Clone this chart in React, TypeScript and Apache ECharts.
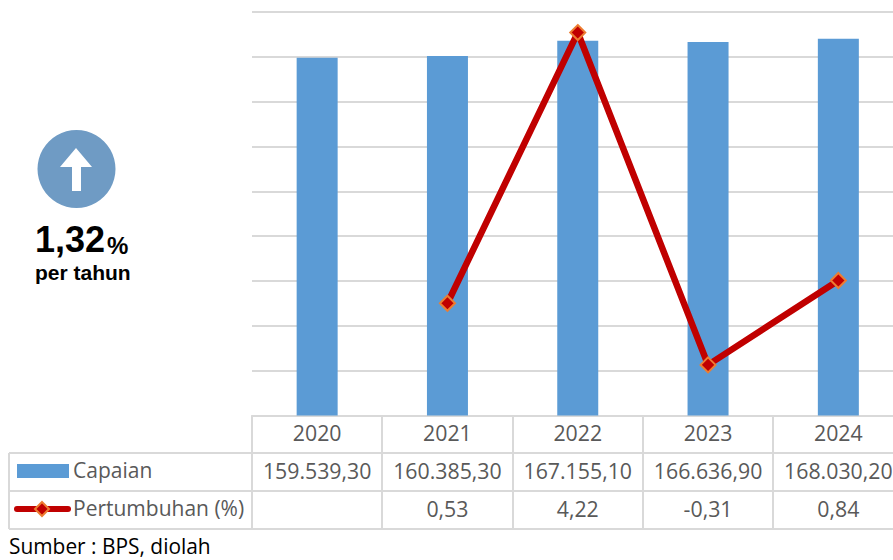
import React, { useEffect, useRef } from "react";
import * as echarts from "echarts";

const years = ["2020", "2021", "2022", "2023", "2024"];
const capaian = [159539.3, 160385.3, 167155.1, 166636.9, 168030.2];
const pertumbuhan: (number | null)[] = [null, 0.53, 4.22, -0.31, 0.84];
const capaianLabels = ["159.539,30", "160.385,30", "167.155,10", "166.636,90", "168.030,20"];
const pertumbuhanLabels = ["", "0,53", "4,22", "-0,31", "0,84"];
const tableRowY = [453, 491, 529];
const tableColX = [252, 382, 513, 643, 773];

const BLUE = "#5B9BD5";
const RED = "#C00000";
const ORANGE = "#ED7D31";
const LINE = "#D9D9D9";
const TEXT = "#595959";
const FONT = '"Open Sans", sans-serif';

const hline = (x1: number, x2: number, y: number) => ({
  type: "line", silent: true,
  shape: { x1, y1: y, x2, y2: y },
  style: { stroke: LINE, lineWidth: 2 },
});
const vline = (x: number, y1: number, y2: number) => ({
  type: "line", silent: true,
  shape: { x1: x, y1, x2: x, y2 },
  style: { stroke: LINE, lineWidth: 2 },
});

export default function App() {
  const ref = useRef<HTMLDivElement>(null);
  useEffect(() => {
    const chart = echarts.init(ref.current!, undefined, { renderer: "svg" });
    const xBase = { type: "category", position: "bottom", axisTick: { show: false }, splitLine: { show: false } };
    const label = (margin: number) => ({
      show: true, interval: 0, margin, color: TEXT, fontFamily: FONT, fontSize: 21.3,
      hideOverlap: false,
    });
    chart.setOption({
      animation: false,
      backgroundColor: "#fff",
      grid: { left: 252, top: 12, width: 651.5, height: 403.5, containLabel: false, outerBoundsMode: "none" },
      xAxis: [
        { ...xBase, data: years, axisLine: { show: true, lineStyle: { color: LINE, width: 2 } }, axisLabel: label(6) },
        { ...xBase, data: capaianLabels, axisLine: { show: false }, axisLabel: label(44) },
        { ...xBase, data: pertumbuhanLabels, axisLine: { show: false }, axisLabel: label(82) },
      ],
      yAxis: [
        {
          type: "value", min: 0, max: 180000, interval: 20000,
          axisLabel: { show: false }, axisLine: { show: false }, axisTick: { show: false },
          splitLine: { show: true, lineStyle: { color: LINE, width: 2 } },
        },
        {
          type: "value", min: -1, max: 4.5, position: "right",
          axisLabel: { show: false }, axisLine: { show: false }, axisTick: { show: false },
          splitLine: { show: false },
        },
      ],
      series: [
        {
          name: "Capaian", type: "bar", data: capaian, barWidth: 41,
          itemStyle: { color: BLUE }, xAxisIndex: 0, yAxisIndex: 0,
        },
        {
          name: "Pertumbuhan (%)", type: "line", data: pertumbuhan, xAxisIndex: 0, yAxisIndex: 1,
          connectNulls: false, symbol: "diamond", symbolSize: 15, showAllSymbol: true,
          lineStyle: { color: RED, width: 6.5 },
          itemStyle: { color: RED, borderColor: ORANGE, borderWidth: 2 },
          z: 5,
        },
      ],
      graphic: [
        hline(9, 893, tableRowY[0]),
        hline(9, 893, tableRowY[1]),
        hline(9, 893, tableRowY[2]),
        vline(9, tableRowY[0], tableRowY[2]),
        ...tableColX.map((x) => vline(x, 415.5, tableRowY[2])),
        { type: "rect", silent: true, shape: { x: 17, y: 464, width: 52, height: 14 }, style: { fill: BLUE } },
        { type: "text", silent: true, x: 73, y: 470, style: { text: "Capaian", fill: TEXT, font: `21px ${FONT}`, verticalAlign: "middle" } },
        { type: "line", silent: true, shape: { x1: 17, y1: 509, x2: 68, y2: 509 }, style: { stroke: RED, lineWidth: 6, lineCap: "round" } },
        { type: "polygon", silent: true, shape: { points: [[42, 502], [49, 509], [42, 516], [35, 509]] }, style: { fill: RED, stroke: ORANGE, lineWidth: 2 } },
        { type: "text", silent: true, x: 73, y: 508, style: { text: "Pertumbuhan (%)", fill: TEXT, font: `21px ${FONT}`, verticalAlign: "middle" } },
        { type: "text", silent: true, x: 9, y: 546, style: { text: "Sumber : BPS, diolah", fill: "#000", font: `20.9px ${FONT}`, lineHeight: 21, verticalAlign: "middle" } },
        { type: "circle", silent: true, shape: { cx: 76.5, cy: 169, r: 39 }, style: { fill: "#6F9BC4" } },
        {
          type: "polygon", silent: true,
          shape: { points: [[76, 148], [92, 167], [81, 167], [81, 191], [72, 191], [72, 167], [60, 167]] },
          style: { fill: "#fff" },
        },
        { type: "text", silent: true, x: 35, y: 239, style: { text: "1,32", fill: "#000", font: `bold 36px "Liberation Sans", Arial, sans-serif`, verticalAlign: "middle" } },
        { type: "text", silent: true, x: 107, y: 245, style: { text: "%", fill: "#000", font: `bold 24px "Liberation Sans", Arial, sans-serif`, verticalAlign: "middle" } },
        { type: "text", silent: true, x: 35, y: 272, style: { text: "per tahun", fill: "#000", font: `bold 21px "Liberation Sans", Arial, sans-serif`, verticalAlign: "middle" } },
      ],
    });
    return () => chart.dispose();
  }, []);
  return (
    <div
      ref={ref}
      style={{ position: "fixed", left: 0, top: 0, width: 893, height: 560, background: "#fff" }}
    />
  );
}
